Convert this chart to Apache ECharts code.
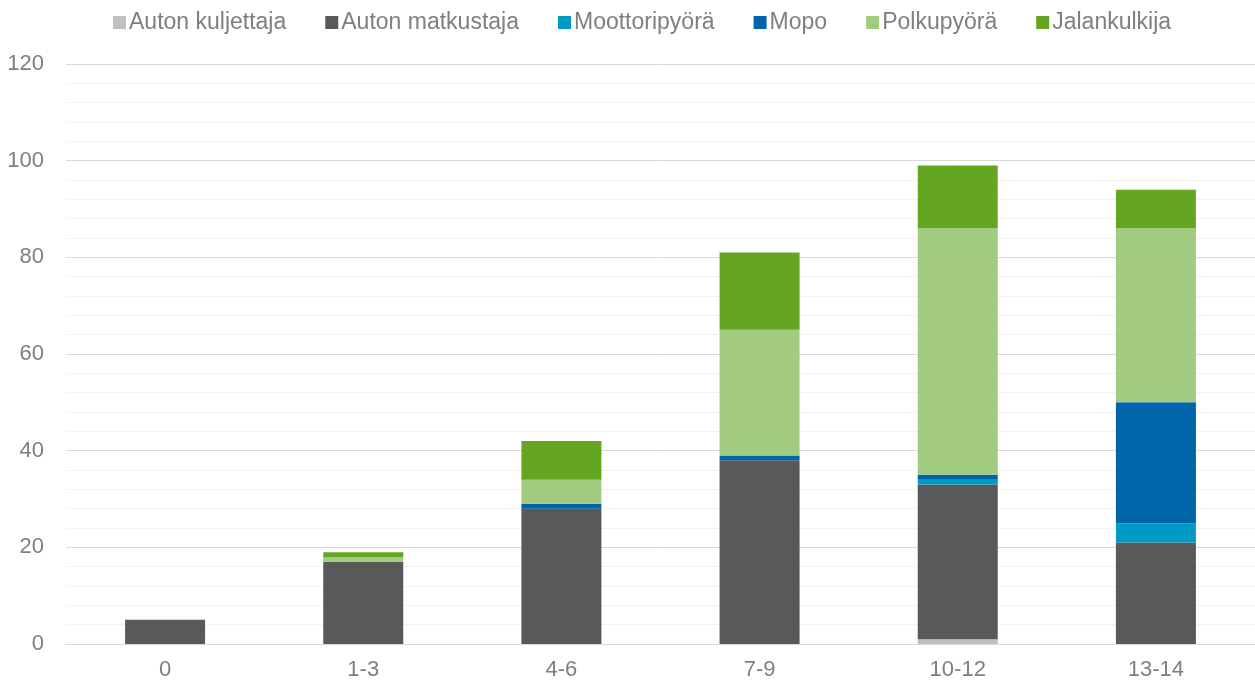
<!DOCTYPE html>
<html>
<head>
<meta charset="utf-8">
<script src="https://cdn.jsdelivr.net/npm/echarts@6/dist/echarts.min.js"></script>
<style>
  html, body { margin: 0; padding: 0; background: #fff; }
  #chart { width: 1255px; height: 683px; }
</style>
</head>
<body>
<div id="chart"></div>
<script>
// Age groups on the x axis
const categories = ['0', '1-3', '4-6', '7-9', '10-12', '13-14'];

// Counts per road-user type, one value per age group
const autonKuljettaja  = [0, 0, 0, 0, 1, 0];
const autonMatkustaja  = [5, 17, 28, 38, 32, 21];
const moottoripyora    = [0, 0, 0, 0, 1, 4];
const mopo             = [0, 0, 1, 1, 1, 25];
const polkupyora       = [0, 1, 5, 26, 51, 36];
const jalankulkija     = [0, 1, 8, 16, 13, 8];

const seriesNames = ['Auton kuljettaja', 'Auton matkustaja', 'Moottoripyörä', 'Mopo', 'Polkupyörä', 'Jalankulkija'];
const seriesData = [autonKuljettaja, autonMatkustaja, moottoripyora, mopo, polkupyora, jalankulkija];
const seriesColors = ['#c0c0c0', '#595959', '#009ac7', '#0065a8', '#a1cb80', '#64a622'];

// Y axis range
const yMin = 0, yMax = 120, yStep = 20;

const chart = echarts.init(document.getElementById('chart'), null, { renderer: 'canvas' });

const font = '"Liberation Sans", Arial, sans-serif';
const textColor = '#7f7f7f';

chart.setOption({
  animation: false,
  textStyle: { fontFamily: font },
  legend: {
    top: 6,
    left: 108,
    itemWidth: 13,
    itemHeight: 13,
    itemGap: 39,
    icon: 'rect',
    textStyle: { color: textColor, fontSize: 23, fontFamily: font, padding: [0, 0, 0, -2] },
    data: seriesNames
  },
  grid: { left: 66, right: 0, top: 64, bottom: 39, containLabel: false },
  xAxis: {
    type: 'category',
    data: categories,
    axisLine: { show: true, lineStyle: { color: '#d9d9d9', width: 1 } },
    axisTick: { show: false },
    axisLabel: { color: textColor, fontSize: 22, fontFamily: font, margin: 15 }
  },
  yAxis: {
    type: 'value',
    min: yMin,
    max: yMax,
    interval: yStep,
    axisLine: { show: false },
    axisTick: { show: false },
    axisLabel: { color: textColor, fontSize: 22, fontFamily: font, margin: 22 },
    splitLine: { show: true, lineStyle: { color: '#d9d9d9', width: 1 } },
    minorTick: { show: false, splitNumber: 5 },
    minorSplitLine: { show: true, lineStyle: { color: '#f2f2f2', width: 1 } }
  },
  series: seriesNames.map((name, i) => ({
    name: name,
    type: 'bar',
    stack: 'total',
    data: seriesData[i],
    barWidth: 80,
    itemStyle: { color: seriesColors[i] },
    emphasis: { disabled: true }
  }))
});
</script>
</body>
</html>
